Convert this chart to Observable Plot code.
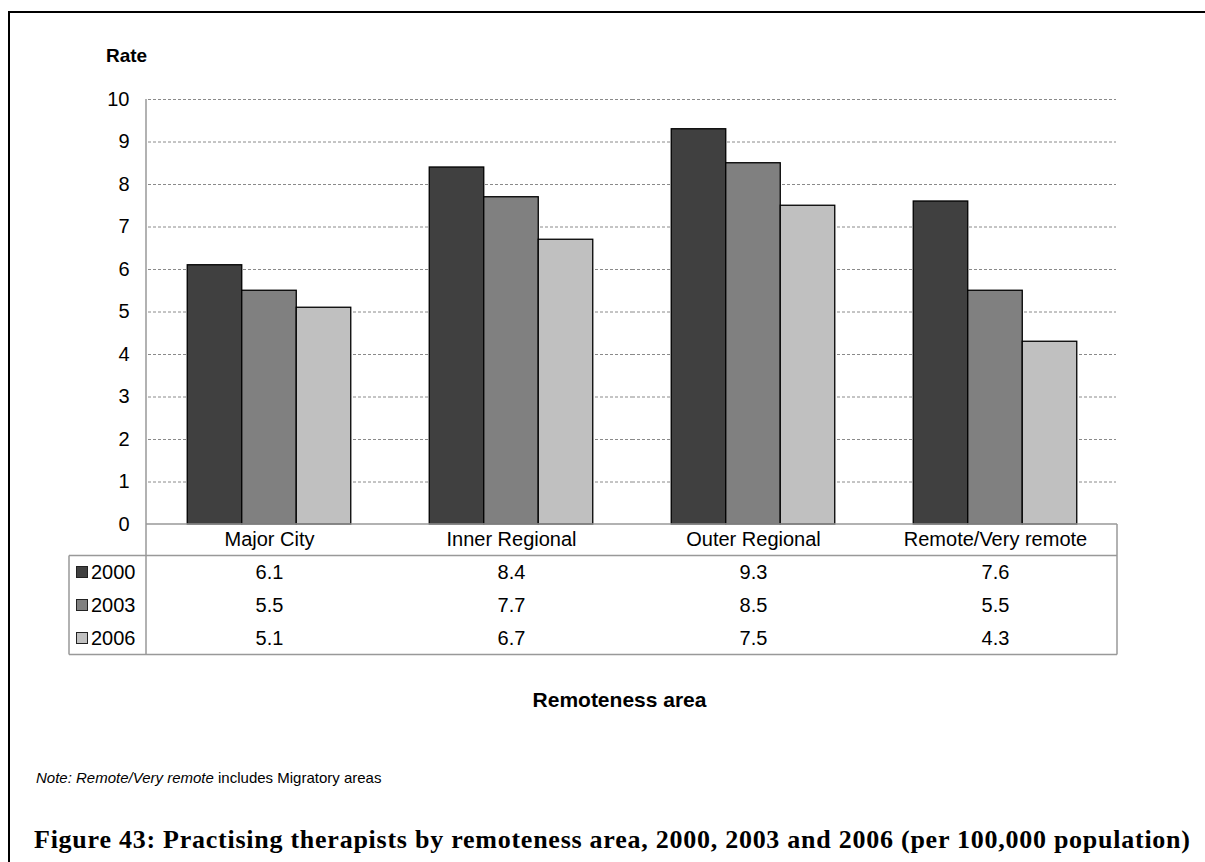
<!DOCTYPE html>
<html>
<head>
<meta charset="utf-8">
<script src="https://cdn.jsdelivr.net/npm/d3@7"></script>
<script src="https://cdn.jsdelivr.net/npm/@observablehq/plot@0.6"></script>
<style>
  html, body { margin: 0; padding: 0; background: #fff; }
  #chart { position: relative; width: 1205px; height: 862px; overflow: hidden; }
</style>
</head>
<body>
<div id="chart"></div>
<script>
// ---- data ----
const categories = ["Major City", "Inner Regional", "Outer Regional", "Remote/Very remote"];
const years = ["2000", "2003", "2006"];
const values2000 = [6.1, 8.4, 9.3, 7.6];
const values2003 = [5.5, 7.7, 8.5, 5.5];
const values2006 = [5.1, 6.7, 7.5, 4.3];
const yTicks = [0, 1, 2, 3, 4, 5, 6, 7, 8, 9, 10];
const yearColors = ["#404040", "#808080", "#c0c0c0"];
const yLabel = "Rate";
const xLabel = "Remoteness area";
const noteItalic = "Note: Remote/Very remote";
const noteRest = " includes Migratory areas";
const caption = "Figure 43: Practising therapists by remoteness area, 2000, 2003 and 2006 (per 100,000 population)";

const seriesValues = [values2000, values2003, values2006];
const rows = categories.flatMap((c, i) =>
  years.map((yr, j) => ({category: c, year: yr, value: seriesValues[j][i]}))
);

// ---- layout ----
const W = 1205, H = 862;
const mTop = 99, mLeft = 146, mRight = 88, mBottom = 338;
const catRowH = 31.5, rowH = 33;
const legendLeft = 69;
const font = "'Liberation Sans', Arial, sans-serif";

const marks = [
  Plot.gridY(yTicks.filter(t => t > 0), {stroke: "#8a8a8a", strokeOpacity: 1, strokeWidth: 1, strokeDasharray: "3,2"}),
  Plot.barY(rows, {fx: "category", x: "year", y: "value", fill: "year", stroke: "#000", strokeWidth: 1.3}),
  Plot.axisY(yTicks, {tickSize: 0, tickPadding: 19, label: null, fontSize: 20, tickFormat: d => String(d)}),
  // category labels row of the data table
  Plot.text(categories, {fx: d => d, text: d => d, frameAnchor: "bottom", lineAnchor: "middle", dy: catRowH / 2 - 1, fontSize: 20, fill: "#000"})
];
years.forEach((yr, j) => {
  marks.push(Plot.text(rows.filter(r => r.year === yr), {
    fx: "category", text: d => d.value.toFixed(1), frameAnchor: "bottom", lineAnchor: "middle",
    dy: catRowH + rowH * (j + 0.5), fontSize: 20, fill: "#000"
  }));
});

const plot = Plot.plot({
  width: W, height: H,
  marginTop: mTop, marginLeft: mLeft, marginRight: mRight, marginBottom: mBottom,
  style: {fontFamily: font, fontSize: "20px", color: "#000", background: "transparent", overflow: "visible"},
  fx: {domain: categories, padding: 0, axis: null, label: null},
  x: {domain: years, paddingInner: 0, paddingOuter: 0.72, round: false, axis: null, label: null},
  y: {domain: [0, 10], axis: null, label: null},
  color: {domain: years, range: yearColors},
  marks
});

document.getElementById("chart").appendChild(plot);

// ---- overlay: table grid, legend column, titles, frame ----
const svg = d3.select(plot);
const yScale = plot.scale("y");
const y0 = yScale.apply(0);
const y10 = yScale.apply(10);
const xL = mLeft, xR = W - mRight;
const tableTop = y0, catBottom = y0 + catRowH, tableBottom = catBottom + rowH * years.length;
const g = svg.append("g").attr("fill", "none").attr("stroke", "#999").attr("stroke-width", 1.5);
g.append("line").attr("x1", xL).attr("x2", xL).attr("y1", y10).attr("y2", tableBottom);
g.append("line").attr("x1", xL).attr("x2", xR).attr("y1", tableTop).attr("y2", tableTop);
g.append("line").attr("x1", xR).attr("x2", xR).attr("y1", tableTop).attr("y2", tableBottom);
g.append("line").attr("x1", legendLeft).attr("x2", xR).attr("y1", catBottom).attr("y2", catBottom);
g.append("line").attr("x1", legendLeft).attr("x2", xR).attr("y1", tableBottom).attr("y2", tableBottom);
g.append("line").attr("x1", legendLeft).attr("x2", legendLeft).attr("y1", catBottom).attr("y2", tableBottom);

const tg = svg.append("g").attr("text-anchor", "start").attr("font-family", font).attr("fill", "#000");

// legend column (series keys)
years.forEach((yr, j) => {
  const cy = catBottom + rowH * (j + 0.5);
  tg.append("rect").attr("x", legendLeft + 7.5).attr("y", cy - 5.5).attr("width", 11).attr("height", 11)
    .attr("fill", yearColors[j]).attr("stroke", "#222").attr("stroke-width", 1);
  tg.append("text").attr("x", legendLeft + 22).attr("y", cy).attr("dy", "0.35em")
    .attr("font-size", 20).text(yr);
});

// axis title
tg.append("text").attr("x", 106).attr("y", 62).attr("font-size", 19)
  .attr("font-weight", "bold").text(yLabel);
// x title
tg.append("text").attr("x", 619.5).attr("y", 707).attr("text-anchor", "middle")
  .attr("font-size", 21).attr("font-weight", "bold").text(xLabel);
// note
const note = tg.append("text").attr("x", 36).attr("y", 783).attr("font-size", 15);
note.append("tspan").attr("font-style", "italic").text(noteItalic);
note.append("tspan").text(noteRest);
// caption
tg.append("text").attr("x", 34).attr("y", 848).attr("font-family", "'Liberation Serif', 'Times New Roman', serif")
  .attr("font-size", 26).attr("font-weight", "bold")
  .attr("textLength", 1156).attr("lengthAdjust", "spacing").text(caption);
// outer frame (left and top edges visible)
const fr = svg.append("g").attr("stroke", "#000").attr("stroke-width", 2);
fr.append("line").attr("x1", 9).attr("x2", 9).attr("y1", 11).attr("y2", H);
fr.append("line").attr("x1", 8).attr("x2", W).attr("y1", 12).attr("y2", 12);
</script>
</body>
</html>
